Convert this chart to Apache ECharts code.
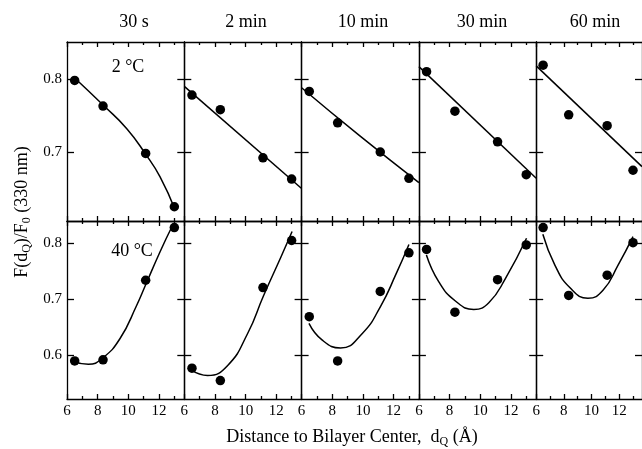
<!DOCTYPE html>
<html><head><meta charset="utf-8">
<script src="https://cdn.jsdelivr.net/npm/echarts@6/dist/echarts.min.js"></script>
<style>html,body{margin:0;padding:0;background:#fff}#c{width:642px;height:449px}</style>
</head><body><div id="c"></div>
<script>
// ---- data ----
const timeLabels = ['30 s', '2 min', '10 min', '30 min', '60 min'];
const tempLabels = ['2 °C', '40 °C'];
const dQ = [6.5, 8.35, 11.13, 13.0];
const xMajorTicks = [6, 8, 10, 12];
const xMinorTicks = [7, 9, 11, 13];
const yTicksTop = [0.7, 0.8];
const yTicksBottom = [0.6, 0.7, 0.8];

// 2 °C (top row) measured F(dQ)/F0
const cold30s  = [0.798, 0.763, 0.698, 0.625];
const cold2min = [0.778, 0.758, 0.692, 0.663];
const cold10min = [0.783, 0.740, 0.700, 0.664];
const cold30min = [0.810, 0.756, 0.714, 0.669];
const cold60min = [0.819, 0.751, 0.736, 0.675];

// 40 °C (bottom row) measured F(dQ)/F0
const warm30s  = [0.590, 0.592, 0.734, 0.828];
const warm2min = [0.577, 0.555, 0.721, 0.805];
const warm10min = [0.669, 0.590, 0.714, 0.783];
const warm30min = [0.789, 0.677, 0.735, 0.797];
const warm60min = [0.828, 0.707, 0.743, 0.801];

// fitted curves [dQ, value]
const coldFit30s  = [[6.52,0.801],[8.37,0.764],[9.9,0.732],[11.13,0.697],[12.07,0.666],[13.05,0.621]];
const coldFit2min = [[6,0.790],[13.65,0.650]];
const coldFit10min = [[6,0.788],[9.8,0.722],[13.65,0.658]];
const coldFit30min = [[6,0.817],[13.65,0.664]];
const coldFit60min = [[6,0.818],[13.65,0.680]];

const warmFit30s  = [[6.41,0.589],[7.39,0.584],[8.32,0.595],[9.46,0.630],[10.54,0.689],[11.13,0.726],[12.07,0.785],[12.85,0.830]];
const warmFit2min = [[6.44,0.574],[7.52,0.564],[8.83,0.582],[10.13,0.639],[11.16,0.706],[12.31,0.776],[13.03,0.821]];
const warmFit10min = [[6.48,0.657],[7.35,0.627],[8.54,0.613],[9.96,0.639],[11.16,0.688],[12.14,0.744],[13.0,0.798]];
const warmFit30min = [[6.49,0.779],[7.3,0.731],[8.38,0.697],[9.58,0.682],[10.56,0.694],[11.64,0.737],[13.02,0.809]];
const warmFit60min = [[6.48,0.816],[7.35,0.761],[8.43,0.721],[9.74,0.702],[10.83,0.716],[11.92,0.761],[13.0,0.812]];

const pointRows = [
  [cold30s, cold2min, cold10min, cold30min, cold60min],
  [warm30s, warm2min, warm10min, warm30min, warm60min]
];
const fitRows = [
  [coldFit30s, coldFit2min, coldFit10min, coldFit30min, coldFit60min],
  [warmFit30s, warmFit2min, warmFit10min, warmFit30min, warmFit60min]
];
const yRange = [[0.6055, 0.8507], [0.522, 0.8398]];
const xRange = [6, 13.65];

// ---- layout ----
const FONT = "'Liberation Serif','Times New Roman',serif";
const GL = 67, GW = 117.3;
const rowTop = [42, 221], rowH = [179, 178];
const AX = { color: '#000', width: 1.3 };

const grid = [], xAxis = [], yAxis = [], series = [];
for (let r = 0; r < 2; r++) {
  for (let c = 0; c < 5; c++) {
    const g = r * 5 + c;
    grid.push({ left: GL + c * GW, top: rowTop[r], width: GW, height: rowH[r] });
    const base = { type: 'value', gridIndex: g, min: xRange[0], max: xRange[1], splitLine: { show: false } };
    xAxis.push(Object.assign({}, base, {
      position: 'bottom',
      axisLine: { show: true, lineStyle: AX },
      axisTick: { show: true, inside: true, length: 5, customValues: xMajorTicks, lineStyle: AX },
      axisLabel: { show: r === 1, customValues: xMajorTicks, margin: 5, fontSize: 15, color: '#000', fontFamily: FONT }
    }));
    xAxis.push(Object.assign({}, base, {
      position: 'bottom',
      axisLine: { show: false },
      axisTick: { show: true, inside: true, length: 3, customValues: xMinorTicks, lineStyle: AX },
      axisLabel: { show: false }
    }));
    xAxis.push(Object.assign({}, base, {
      position: 'top',
      axisLine: { show: true, lineStyle: AX },
      axisTick: { show: true, inside: true, length: 5, customValues: xMajorTicks, lineStyle: AX },
      axisLabel: { show: false }
    }));
    xAxis.push(Object.assign({}, base, {
      position: 'top',
      axisLine: { show: false },
      axisTick: { show: true, inside: true, length: 3, customValues: xMinorTicks, lineStyle: AX },
      axisLabel: { show: false }
    }));
    const yt = r === 0 ? yTicksTop : yTicksBottom;
    const ybase = { type: 'value', gridIndex: g, min: yRange[r][0], max: yRange[r][1], splitLine: { show: false } };
    yAxis.push(Object.assign({}, ybase, {
      position: 'left',
      axisLine: { show: true, lineStyle: AX },
      axisTick: { show: true, inside: true, length: 7, customValues: yt, lineStyle: AX },
      axisLabel: { show: c === 0, customValues: yt, margin: 5, fontSize: 15, color: '#000', fontFamily: FONT }
    }));
    yAxis.push(Object.assign({}, ybase, {
      position: 'right',
      axisLine: { show: true, lineStyle: AX },
      axisTick: { show: true, inside: true, length: 7, customValues: yt, lineStyle: AX },
      axisLabel: { show: false }
    }));
    series.push({
      type: 'line', xAxisIndex: 4 * g, yAxisIndex: 2 * g,
      data: fitRows[r][c], showSymbol: false, smooth: 0.5,
      lineStyle: { color: '#000', width: 1.5 }, silent: true, animation: false
    });
    series.push({
      type: 'scatter', xAxisIndex: 4 * g, yAxisIndex: 2 * g,
      data: dQ.map((x, i) => [x, pointRows[r][c][i]]),
      symbol: 'circle', symbolSize: 9.5, itemStyle: { color: '#000', opacity: 1 }, animation: false
    });
  }
}

const titleX = [134, 246, 363, 482, 595];
const graphic = timeLabels.map((t, i) => ({
  type: 'text', x: titleX[i], y: 22,
  style: { text: t, font: '18px ' + FONT, fill: '#000', align: 'center', verticalAlign: 'middle' }
}));
graphic.push({ type: 'text', x: 128, y: 67, style: { text: tempLabels[0], font: '18px ' + FONT, fill: '#000', align: 'center', verticalAlign: 'middle' } });
graphic.push({ type: 'text', x: 132, y: 251, style: { text: tempLabels[1], font: '18px ' + FONT, fill: '#000', align: 'center', verticalAlign: 'middle' } });
graphic.push({
  type: 'text', x: 22, y: 212, rotation: Math.PI / 2,
  style: {
    text: 'F(d{sub|Q})/F{sub|0} (330 nm)', fontSize: 18, fontFamily: FONT, fill: '#000', align: 'center', verticalAlign: 'middle',
    rich: { sub: { fontSize: 12, fontFamily: FONT, fill: '#000', verticalAlign: 'bottom', padding: [9, 0, 0, 0] } }
  }
});
graphic.push({
  type: 'text', x: 352, y: 437,
  style: {
    text: 'Distance to Bilayer Center,  d{sub|Q} (Å)', fontSize: 18, fontFamily: FONT, fill: '#000', align: 'center', verticalAlign: 'middle',
    rich: { sub: { fontSize: 12, fontFamily: FONT, fill: '#000', verticalAlign: 'bottom', padding: [9, 0, 0, 0] } }
  }
});

const chart = echarts.init(document.getElementById('c'), null, { renderer: 'canvas' });
chart.setOption({ animation: false, backgroundColor: '#fff', grid, xAxis, yAxis, series, graphic });
</script>
</body></html>
